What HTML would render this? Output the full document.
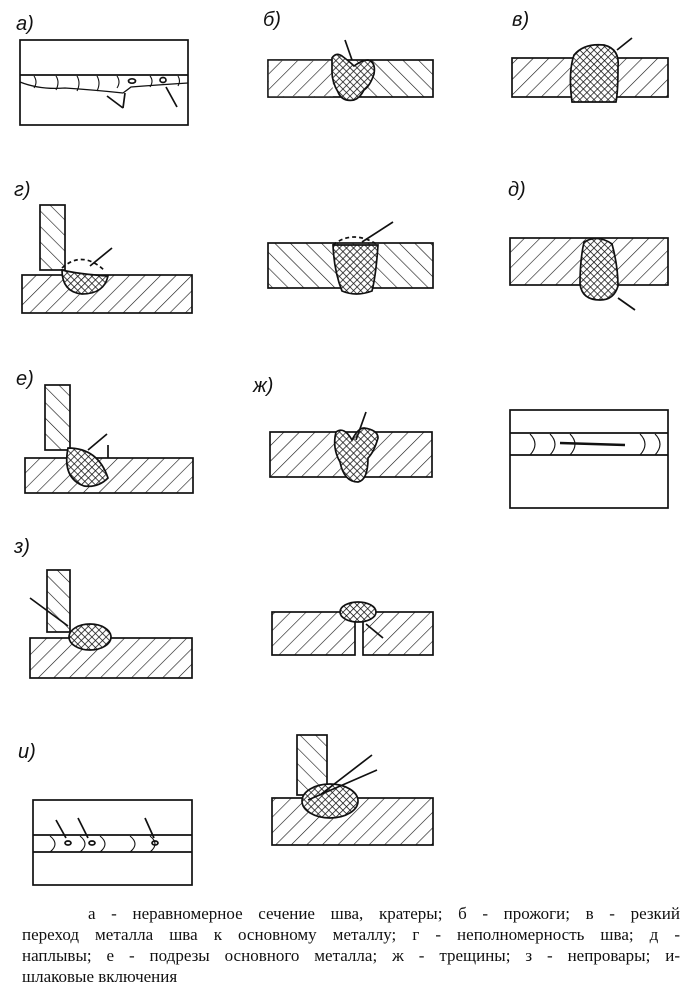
<!DOCTYPE html>
<html><head><meta charset="utf-8"><style>
body{margin:0;background:#fff;width:695px;height:996px;overflow:hidden;position:relative}
svg{position:absolute;left:0;top:0}
.cap{position:absolute;left:22px;width:658px;top:903px;font-family:"Liberation Serif","DejaVu Serif",serif;font-size:17px;line-height:21px;color:#111}
.cap div{text-align:justify;text-align-last:justify;white-space:nowrap;overflow:visible}
.cap div.l{text-align-last:left}
</style></head><body>
<svg width="695" height="996" viewBox="0 0 695 996" xmlns="http://www.w3.org/2000/svg">
<defs>
<pattern id="h" width="11" height="11" patternUnits="userSpaceOnUse" patternTransform="rotate(45)"><line x1="0" y1="0" x2="0" y2="11" stroke="#111" stroke-width="1.2"/></pattern>
<pattern id="h2" width="11" height="11" patternUnits="userSpaceOnUse" patternTransform="rotate(-45)"><line x1="0" y1="0" x2="0" y2="11" stroke="#111" stroke-width="1.2"/></pattern>
<pattern id="x" width="5" height="5" patternUnits="userSpaceOnUse" patternTransform="rotate(45)"><rect width="5" height="5" fill="#fff"/><path d="M0 0V5M0 0H5" stroke="#111" stroke-width="1.5"/></pattern>
</defs>
<g fill="none" stroke="#111" stroke-width="1.7" font-family="Liberation Sans,sans-serif" font-style="italic" font-size="20">
<g fill="#111" stroke="none"><text x="16" y="30">а)</text><text x="263" y="26">б)</text><text x="512" y="26">в)</text><text x="14" y="196">г)</text><text x="508" y="196">д)</text><text x="16" y="385">е)</text><text x="253" y="392">ж)</text><text x="14" y="553">з)</text><text x="18" y="758">и)</text></g>
<!-- a -->
<rect x="20" y="40" width="168" height="85"/>
<path d="M20 75H188"/>
<path d="M20 82q20 8 45 6q30 2 58 5l8 -6q25 -2 57 -4" stroke-width="1.3"/>
<path d="M34 76q4 6 0 12M56 76q4 6 0 14M77 76q4 7 0 15M97 76q4 7 0 15M117 76q4 6 0 12M150 76q4 5 0 11M178 76q3 5 0 10" stroke-width="1.1"/>
<ellipse cx="132" cy="81" rx="3.5" ry="2.2"/><ellipse cx="163" cy="80" rx="3" ry="2.5"/>
<path d="M123 108L107 96M123 108L125 93M177 107L166 87"/>
<!-- б -->
<rect x="268" y="60" width="165" height="37" fill="url(#h2)"/>
<rect x="268.8" y="60.8" width="64" height="35.4" fill="#fff" stroke="none"/>
<rect x="268.8" y="60.8" width="64" height="35.4" fill="url(#h)" stroke="none"/>
<path d="M332 58q4 -6 10 -2q8 6 12 10q8 -6 14 -6q8 2 6 14q-4 12 -10 16q-4 8 -10 10q-12 2 -16 -8q-6 -10 -6 -20q0 -8 0 -14z" fill="url(#x)"/>
<path d="M345 40L352 60"/>
<!-- в -->
<rect x="512" y="58" width="156" height="39" fill="url(#h)"/>
<path d="M574 55q10 -12 30 -10q16 4 14 22q0 25 -2 35h-44q-4 -30 2 -47z" fill="url(#x)"/>
<path d="M632 38L617 50"/>
<!-- г -->
<rect x="40" y="205" width="25" height="65" fill="url(#h2)"/>
<rect x="22" y="275" width="170" height="38" fill="url(#h)"/>
<path d="M62 270q0 22 20 24q22 0 26 -18q-30 -2 -46 -6z" fill="url(#x)"/>
<path d="M62 268q20 -18 42 2" stroke-dasharray="4 3"/>
<path d="M112 248L90 266"/>
<!-- center row2 -->
<rect x="268" y="243" width="165" height="45" fill="url(#h2)"/>
<path d="M333 245h45q-2 30 -6 46q-16 6 -30 0q-8 -20 -9 -46z" fill="url(#x)"/>
<path d="M333 245q20 -16 45 0" stroke-dasharray="4 3"/>
<path d="M393 222L362 242"/>
<!-- д -->
<rect x="510" y="238" width="158" height="47" fill="url(#h)"/>
<path d="M584 242q14 -8 28 2q6 22 6 42q-4 14 -18 14q-18 0 -20 -16q0 -24 4 -42z" fill="url(#x)"/>
<path d="M635 310L618 298"/>
<!-- е -->
<rect x="45" y="385" width="25" height="65" fill="url(#h2)"/>
<rect x="25" y="458" width="168" height="35" fill="url(#h)"/>
<path d="M68 448q30 0 40 30q-10 10 -24 8q-22 -8 -16 -38z" fill="url(#x)"/>
<path d="M107 434L88 450M108 445L108 458"/>
<!-- ж -->
<rect x="270" y="432" width="162" height="45" fill="url(#h)"/>
<path d="M336 432q8 -6 16 8q6 -12 12 -12q14 2 14 10q-4 14 -10 20q0 22 -10 24q-14 0 -18 -20q-8 -14 -4 -30z" fill="url(#x)"/>
<path d="M366 412L356 440"/>
<!-- right row3 -->
<rect x="510" y="410" width="158" height="98"/>
<path d="M510 433H668M510 455H668"/>
<path d="M530 434q10 10 0 21M550 434q10 10 0 21M570 434q10 10 0 21M640 434q10 10 0 21M655 434q10 10 0 21" stroke-width="1.1"/>
<path d="M560 443L625 445" stroke-width="2.5"/>
<!-- з -->
<rect x="47" y="570" width="23" height="62" fill="url(#h2)"/>
<rect x="30" y="638" width="162" height="40" fill="url(#h)"/>
<ellipse cx="90" cy="637" rx="21" ry="13" fill="url(#x)"/>
<path d="M30 598L68 626"/>
<!-- center row4 -->
<rect x="272" y="612" width="83" height="43" fill="url(#h)"/>
<rect x="363" y="612" width="70" height="43" fill="url(#h)"/>
<ellipse cx="358" cy="612" rx="18" ry="10" fill="url(#x)"/>
<path d="M383 638L366 624"/>
<!-- и -->
<rect x="33" y="800" width="159" height="85"/>
<path d="M33 835H192M33 852H192"/>
<path d="M50 836q10 8 0 16M80 836q10 8 0 16M100 836q10 8 0 16M130 836q10 8 0 16M150 836q10 8 0 16" stroke-width="1.1"/>
<ellipse cx="68" cy="843" rx="3" ry="2"/><ellipse cx="92" cy="843" rx="3" ry="2"/><ellipse cx="155" cy="843" rx="3" ry="2"/>
<path d="M56 820L66 838M78 818L88 838M145 818L154 838"/>
<!-- bottom center -->
<rect x="297" y="735" width="30" height="60" fill="url(#h2)"/>
<rect x="272" y="798" width="161" height="47" fill="url(#h)"/>
<ellipse cx="330" cy="801" rx="28" ry="17" fill="url(#x)"/>
<path d="M377 770L308 800M372 755L320 795"/>
</g>
</svg>
<div class="cap">
<div style="padding-left:66px">а - неравномерное сечение шва, кратеры; б - прожоги; в - резкий</div>
<div>переход металла шва к основному металлу; г - неполномерность шва; д -</div>
<div>наплывы; е - подрезы основного металла; ж - трещины; з - непровары; и-</div>
<div class="l">шлаковые включения</div>
</div>
</body></html>
